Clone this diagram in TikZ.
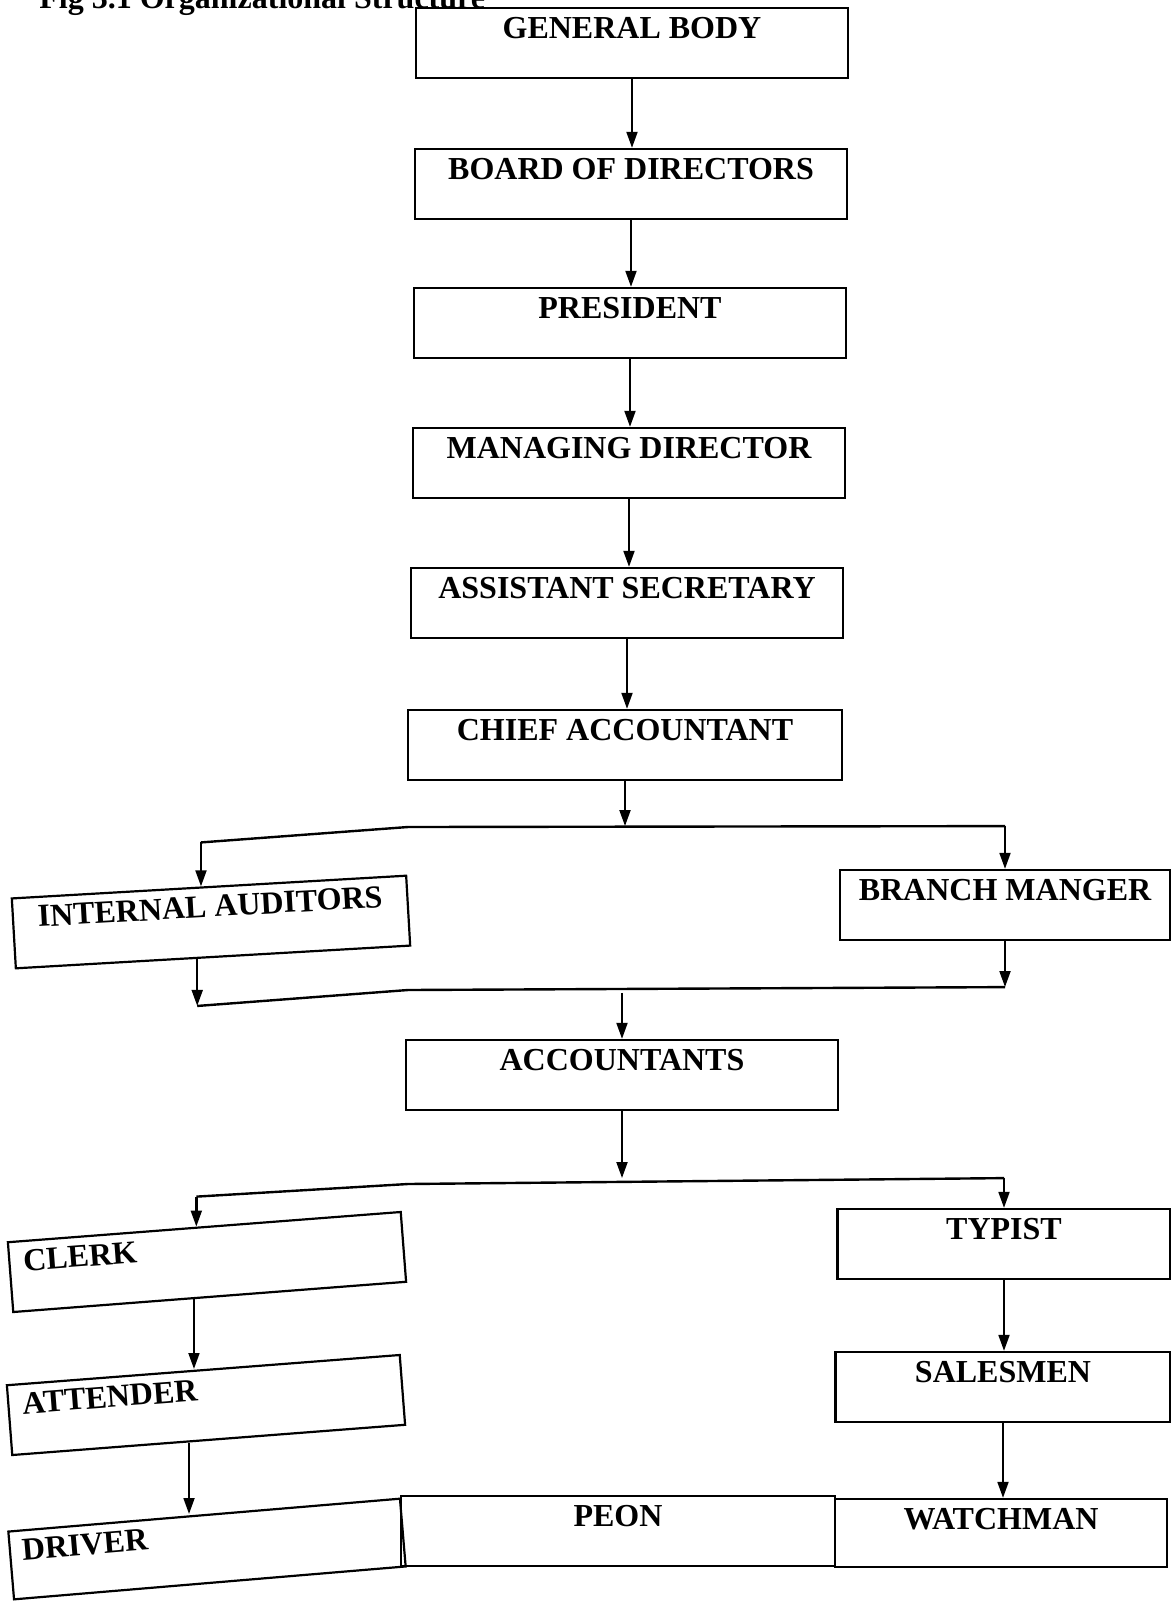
\documentclass[tikz,border=0pt]{standalone}
\usepackage{fontspec}
\setmainfont{Liberation Serif}
\usetikzlibrary{arrows.meta, calc}

\begin{document}
\begin{tikzpicture}[
  x=0.5pt, y=-0.5pt,
  orgbox/.style={rectangle, draw=black, line width=1.1pt, inner xsep=0pt, inner ysep=0pt, minimum width=216pt, text height=15pt, text depth=20pt, font=\bfseries\fontsize{16}{18}\selectfont},
  sidebox/.style={orgbox, minimum width=166pt},
  leftbox/.style={orgbox, minimum width=0pt, inner xsep=7pt, text width=183pt, align=left},
  arrow/.style={-{Triangle[length=8pt, width=5.4pt]}, line width=1.2pt},
  bar/.style={line width=1.2pt}
]
  \useasboundingbox (0,0) rectangle (1171,1601);

  % Caption, cut by the top edge
  \node[anchor=base west, inner sep=0pt, font=\bfseries\fontsize{16}{18}\selectfont] (caption) at (39,8) {Fig 3.1 Organizational Structure};

  % Top chain
  \node[orgbox] (gb) at (632,43) {GENERAL BODY};
  \node[orgbox] (bod) at (631,184) {BOARD OF DIRECTORS};
  \node[orgbox] (pres) at (630,323) {PRESIDENT};
  \node[orgbox] (md) at (629,463) {MANAGING DIRECTOR};
  \node[orgbox] (asec) at (627,603) {ASSISTANT SECRETARY};
  \node[orgbox, minimum width=217pt] (chief) at (625,745) {CHIEF ACCOUNTANT};

  \draw[arrow] (gb.south) -- (gb.south |- bod.north);
  \draw[arrow] (bod.south) -- (bod.south |- pres.north);
  \draw[arrow] (pres.south) -- (pres.south |- md.north);
  \draw[arrow] (md.south) -- (md.south |- asec.north);
  \draw[arrow] (asec.south) -- (asec.south |- chief.north);

  % First split
  \node[orgbox, minimum width=197.5pt, rotate=3.3] (ia) at (211,922) {INTERNAL AUDITORS};
  \node[sidebox, minimum width=165pt] (bm) at (1005,905) {BRANCH MANGER};

  \coordinate (ia-top) at ($(ia.north west)!0.48!(ia.north east)$);
  \coordinate (ia-bot) at ($(ia.south west)!0.46!(ia.south east)$);
  \coordinate (b1-mid) at ($(chief.south)+(0,45)$);
  \coordinate (b1-left) at ($(ia-top)+(0,-44)$);
  \coordinate (b1-knee) at (408,827);
  \coordinate (b1-right) at (bm.north |- b1-mid);

  \draw[bar] (b1-left) -- (b1-knee) -- (b1-right);
  \draw[arrow] (chief.south) -- (b1-mid);
  \draw[arrow] (b1-left) -- (ia-top);
  \draw[arrow] (b1-right) -- (bm.north);

  % Join into accountants
  \node[orgbox] (acc) at (622,1075) {ACCOUNTANTS};

  \coordinate (b2-left) at ($(ia-bot)+(0,47)$);
  \coordinate (b2-knee) at (408,990);
  \coordinate (b2-right) at ($(bm.south)+(0,46)$);
  \coordinate (b2-out) at ($(acc.north)+(0,-46)$);

  \draw[bar] (b2-left) -- (b2-knee) -- (b2-right);
  \draw[arrow] (ia-bot) -- (b2-left);
  \draw[arrow] (bm.south) -- (b2-right);
  \draw[arrow] (b2-out) -- (acc.north);

  % Second split
  \node[leftbox, rotate=4.4] (clerk) at (207,1262) {CLERK};
  \node[sidebox, minimum width=166.5pt] (typ) at (1004,1244) {TYPIST};

  \coordinate (clerk-top) at ($(clerk.north west)!0.48!(clerk.north east)$);
  \coordinate (clerk-bot) at ($(clerk.south west)!0.46!(clerk.south east)$);
  \coordinate (b3-mid) at ($(acc.south)+(0,67)$);
  \coordinate (b3-left) at ($(clerk-top)+(0,-30)$);
  \coordinate (b3-knee) at (408,1184);
  \coordinate (b3-right) at (typ.north |- b3-mid);

  \draw[arrow] (acc.south) -- (b3-mid);
  \draw[bar] (b3-left) -- (b3-knee) -- (b3-right);
  \draw[arrow] (b3-left) -- (clerk-top);
  \draw[arrow] (b3-right) -- (typ.north);

  % Lower chains
  \node[leftbox, rotate=4.4] (att) at (206,1405) {ATTENDER};
  \node[sidebox, minimum width=167.5pt] (sal) at (1003,1387) {SALESMEN};
  \coordinate (att-bot) at ($(att.south west)!0.45!(att.south east)$);

  \draw[arrow] (clerk-bot) -- (clerk-bot |- att.north);
  \draw[arrow] (typ.south) -- (typ.south |- sal.north);

  % Bottom row
  \node[leftbox, inner xsep=6pt, text width=184.5pt, text depth=19pt, rotate=4.8] (driver) at (207,1549) {DRIVER};
  \node[orgbox, minimum width=217pt] (peon) at (618,1531) {PEON};
  \node[sidebox, text depth=19pt] (watch) at (1001,1533) {WATCHMAN};

  \draw[arrow] (att-bot) -- (att-bot |- driver.north);
  \draw[arrow] (sal.south) -- (sal.south |- watch.north);

\end{tikzpicture}
\end{document}
